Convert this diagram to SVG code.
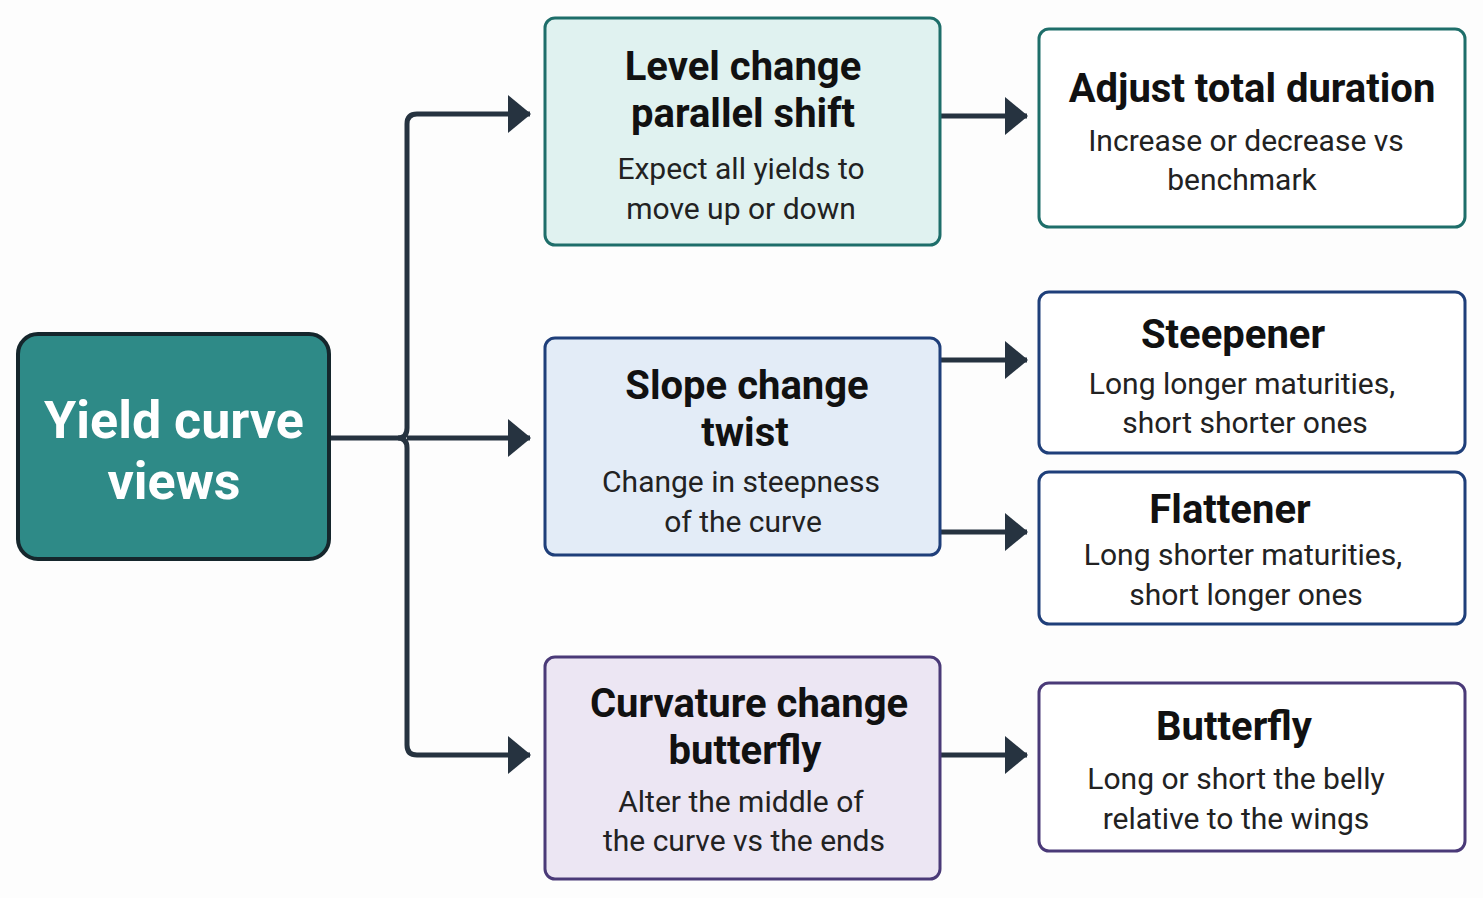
<svg xmlns="http://www.w3.org/2000/svg" width="1483" height="898" viewBox="0 0 1483 898">
<defs>
<marker id="ah" markerWidth="24" markerHeight="38" refX="22" refY="19" orient="auto" markerUnits="userSpaceOnUse"><path d="M0,0 L23,19 L0,38 Z" fill="#263340"/></marker>
<style>
.t{font-family:Roboto,"Liberation Sans",sans-serif;font-weight:bold;font-size:40px;fill:#111;text-anchor:middle}
.s{font-family:Roboto,"Liberation Sans",sans-serif;font-size:30px;fill:#222;text-anchor:middle}
.c{fill:none;stroke:#263340;stroke-width:5}
</style>
</defs>
<rect width="1483" height="898" fill="#fdfdfd"/>
<g id="connectors">
<path class="c" d="M329,438 H398 Q407,438 407,428 V124 Q407,114 417,114 H530" marker-end="url(#ah)"/>
<path class="c" d="M407,438 H530" marker-end="url(#ah)"/>
<path class="c" d="M398,438 Q407,438 407,448 V745 Q407,755 417,755 H530" marker-end="url(#ah)"/>
<path class="c" d="M940,116 H1027" marker-end="url(#ah)"/>
<path class="c" d="M940,360 H1027" marker-end="url(#ah)"/>
<path class="c" d="M940,532 H1027" marker-end="url(#ah)"/>
<path class="c" d="M940,755 H1027" marker-end="url(#ah)"/>
</g>
<g id="root"><rect x="18" y="334" width="311" height="225" rx="20" fill="#2e8a87" stroke="#15262c" stroke-width="4"/>
<text x="174" y="438" style="font-family:Roboto,'Liberation Sans',sans-serif;font-weight:bold;font-size:52px;fill:#fff;text-anchor:middle">Yield curve</text>
<text x="174" y="499" style="font-family:Roboto,'Liberation Sans',sans-serif;font-weight:bold;font-size:52px;fill:#fff;text-anchor:middle">views</text></g>
<g id="level"><rect x="545" y="18" width="395" height="227" rx="10" fill="#e0f2f0" stroke="#1e6e6a" stroke-width="3"/>
<text class="t" x="743" y="80">Level change</text><text class="t" x="743" y="127">parallel shift</text>
<text class="s" x="741" y="179">Expect all yields to</text><text class="s" x="741" y="219">move up or down</text></g>
<g id="slope"><rect x="545" y="338" width="395" height="217" rx="10" fill="#e3ecf7" stroke="#1f3f7a" stroke-width="3"/>
<text class="t" x="747" y="399">Slope change</text><text class="t" x="745" y="446">twist</text>
<text class="s" x="741" y="492">Change in steepness</text><text class="s" x="743" y="532">of the curve</text></g>
<g id="curv"><rect x="545" y="657" width="395" height="222" rx="10" fill="#ece6f3" stroke="#4a3a78" stroke-width="3"/>
<text class="t" x="749" y="717">Curvature change</text><text class="t" x="745" y="764">butterfly</text>
<text class="s" x="741" y="812">Alter the middle of</text><text class="s" x="744" y="851">the curve vs the ends</text></g>
<g id="dur"><rect x="1039" y="29" width="426" height="198" rx="10" fill="#fff" stroke="#1e6e6a" stroke-width="3"/>
<text class="t" x="1252" y="102">Adjust total duration</text>
<text class="s" x="1246" y="151">Increase or decrease vs</text><text class="s" x="1242" y="190">benchmark</text></g>
<g id="steep"><rect x="1039" y="292" width="426" height="161" rx="10" fill="#fff" stroke="#1f3f7a" stroke-width="3"/>
<text class="t" x="1233" y="348">Steepener</text>
<text class="s" x="1242" y="394">Long longer maturities,</text><text class="s" x="1245" y="433">short shorter ones</text></g>
<g id="flat"><rect x="1039" y="472" width="426" height="152" rx="10" fill="#fff" stroke="#1f3f7a" stroke-width="3"/>
<text class="t" x="1230" y="523">Flattener</text>
<text class="s" x="1243" y="565">Long shorter maturities,</text><text class="s" x="1246" y="605">short longer ones</text></g>
<g id="bfly"><rect x="1039" y="683" width="426" height="168" rx="10" fill="#fff" stroke="#4a3a78" stroke-width="3"/>
<text class="t" x="1234" y="740">Butterfly</text>
<text class="s" x="1236" y="789">Long or short the belly</text><text class="s" x="1236" y="829">relative to the wings</text></g>
</svg>
